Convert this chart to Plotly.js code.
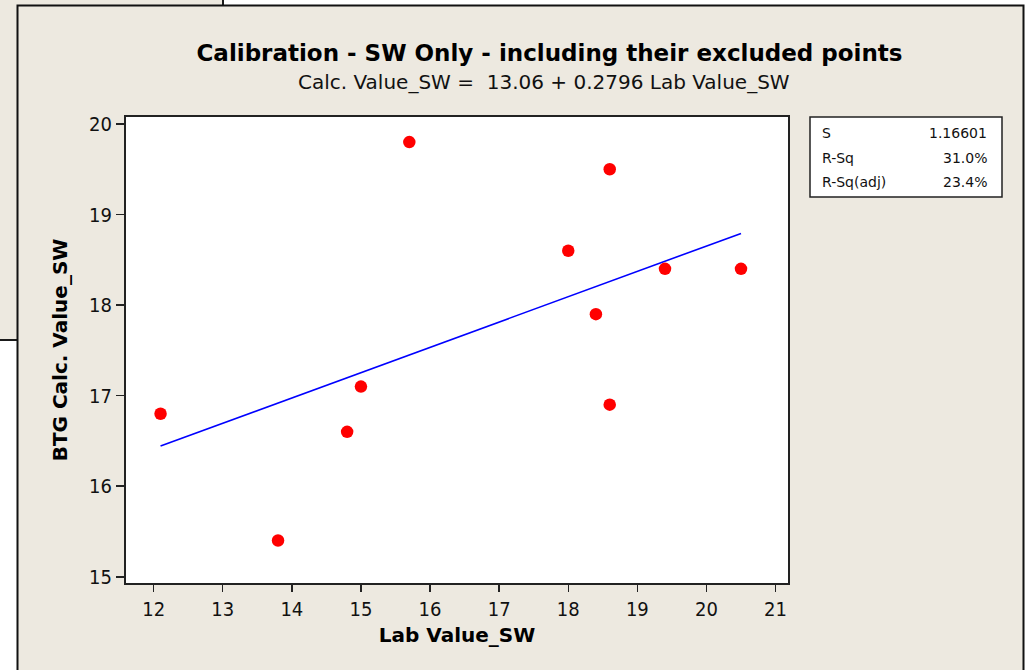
<!DOCTYPE html>
<html>
<head>
<meta charset="utf-8">
<script src="https://cdn.plot.ly/plotly-3.0.1.min.js"></script>
<style>
  html, body { margin: 0; padding: 0; background: #ffffff; }
  #chart { width: 1025px; height: 670px; }
</style>
</head>
<body>
<div id="chart"></div>
<script>
// ---- Data ----
const labValue  = [12.1, 13.8, 14.8, 15.0, 15.7, 18.0, 18.4, 18.6, 18.6, 19.4, 20.5];
const calcValue = [16.8, 15.4, 16.6, 17.1, 19.8, 18.6, 17.9, 19.5, 16.9, 18.4, 18.4];
const fitIntercept = 13.06;
const fitSlope = 0.2796;
const xTicks = [12, 13, 14, 15, 16, 17, 18, 19, 20, 21];
const yTicks = [15, 16, 17, 18, 19, 20];
const statLabels = ['S', 'R-Sq', 'R-Sq(adj)'];
const statValues = ['1.16601', '31.0%', '23.4%'];
const titleText = 'Calibration - SW Only - including their excluded points';
const subtitleText = 'Calc. Value_SW =  13.06 + 0.2796 Lab Value_SW';
const xTitle = 'Lab Value_SW';
const yTitle = 'BTG Calc. Value_SW';

// ---- Layout geometry (pixels) ----
const W = 1025, H = 670;
const M = { l: 126, r: 237, t: 117, b: 87 };
const PW = W - M.l - M.r, PH = H - M.t - M.b;
const px = v => (v - M.l) / PW;         // pixel x -> paper x
const py = v => (H - M.b - v) / PH;     // pixel y -> paper y

const BEIGE = '#EDE9E0';
const FONT = 'DejaVu Sans, sans-serif';
const FONT_C = 'DejaVu Sans Condensed, DejaVu Sans, sans-serif';

// fitted line through the sorted x values
const fitX = labValue.slice().sort((a, b) => a - b);
const fitY = fitX.map(x => fitIntercept + fitSlope * x);

const traces = [
  {
    x: fitX, y: fitY, type: 'scatter', mode: 'lines',
    line: { color: '#0000FF', width: 1.6 },
    hoverinfo: 'skip', showlegend: false
  },
  {
    x: labValue, y: calcValue, type: 'scatter', mode: 'markers',
    marker: { color: '#FF0000', size: 12.5, line: { width: 0 } },
    showlegend: false
  }
];

const shapes = [
  // background (behind) window
  { type: 'rect', xref: 'paper', yref: 'paper', layer: 'below',
    x0: px(-5), x1: px(223), y0: py(340), y1: py(-5),
    fillcolor: BEIGE, line: { color: '#1a1a1a', width: 2 } },
  // front window
  { type: 'rect', xref: 'paper', yref: 'paper', layer: 'below',
    x0: px(17.5), x1: px(1023.5), y0: py(680), y1: py(5.5),
    fillcolor: BEIGE, line: { color: '#111111', width: 2 } },
  // plot area
  { type: 'rect', xref: 'paper', yref: 'paper', layer: 'below',
    x0: 0, x1: 1, y0: 0, y1: 1,
    fillcolor: '#FFFFFF', line: { width: 0 } },
  // stats box
  { type: 'rect', xref: 'paper', yref: 'paper', layer: 'above',
    x0: px(810), x1: px(1002), y0: py(197), y1: py(117),
    fillcolor: '#FFFFFF', line: { color: '#222222', width: 1.5 } }
];

const annotations = [
  { text: subtitleText, xref: 'paper', yref: 'paper',
    x: px(544), y: py(82), xanchor: 'center', yanchor: 'middle',
    showarrow: false, font: { family: FONT, size: 20, color: '#111111' } }
];
const rowY = [133, 158, 182];
statLabels.forEach((lab, i) => {
  annotations.push({ text: lab, xref: 'paper', yref: 'paper',
    x: px(820), y: py(rowY[i]), xanchor: 'left', yanchor: 'middle',
    showarrow: false, font: { family: FONT, size: 14, color: '#111111' } });
  annotations.push({ text: statValues[i], xref: 'paper', yref: 'paper',
    x: px(989), y: py(rowY[i]), xanchor: 'right', yanchor: 'middle',
    showarrow: false, font: { family: FONT, size: 14, color: '#111111' } });
});

const layout = {
  width: W, height: H,
  margin: M,
  paper_bgcolor: '#FFFFFF',
  plot_bgcolor: 'rgba(0,0,0,0)',
  showlegend: false,
  title: {
    text: '<b>' + titleText + '</b>',
    xref: 'paper', x: px(549.5), xanchor: 'center',
    yref: 'container', y: 1 - 53 / H, yanchor: 'middle',
    font: { family: FONT, size: 23, color: '#000000' }
  },
  xaxis: {
    range: [11.6, 21.18],
    tickmode: 'array', tickvals: xTicks, ticktext: xTicks.map(String),
    ticks: 'outside', ticklen: 7, tickwidth: 1.5, tickcolor: '#222222',
    showline: true, linecolor: '#222222', linewidth: 2, mirror: true,
    showgrid: false, zeroline: false,
    tickfont: { family: FONT_C, size: 20, color: '#111111' },
    title: { text: '<b>' + xTitle + '</b>', standoff: 8,
             font: { family: FONT, size: 20, color: '#000000' } }
  },
  yaxis: {
    range: [14.931, 20.077],
    tickmode: 'array', tickvals: yTicks, ticktext: yTicks.map(String),
    ticks: 'outside', ticklen: 8, tickwidth: 1.5, tickcolor: '#222222',
    showline: true, linecolor: '#222222', linewidth: 2, mirror: true,
    showgrid: false, zeroline: false,
    tickfont: { family: FONT_C, size: 20, color: '#111111' },
    title: { text: '<b>' + yTitle + '</b>', standoff: 16,
             font: { family: FONT, size: 20, color: '#000000' } }
  },
  shapes: shapes,
  annotations: annotations
};

Plotly.newPlot('chart', traces, layout, { displayModeBar: false, staticPlot: true });
</script>
</body>
</html>
